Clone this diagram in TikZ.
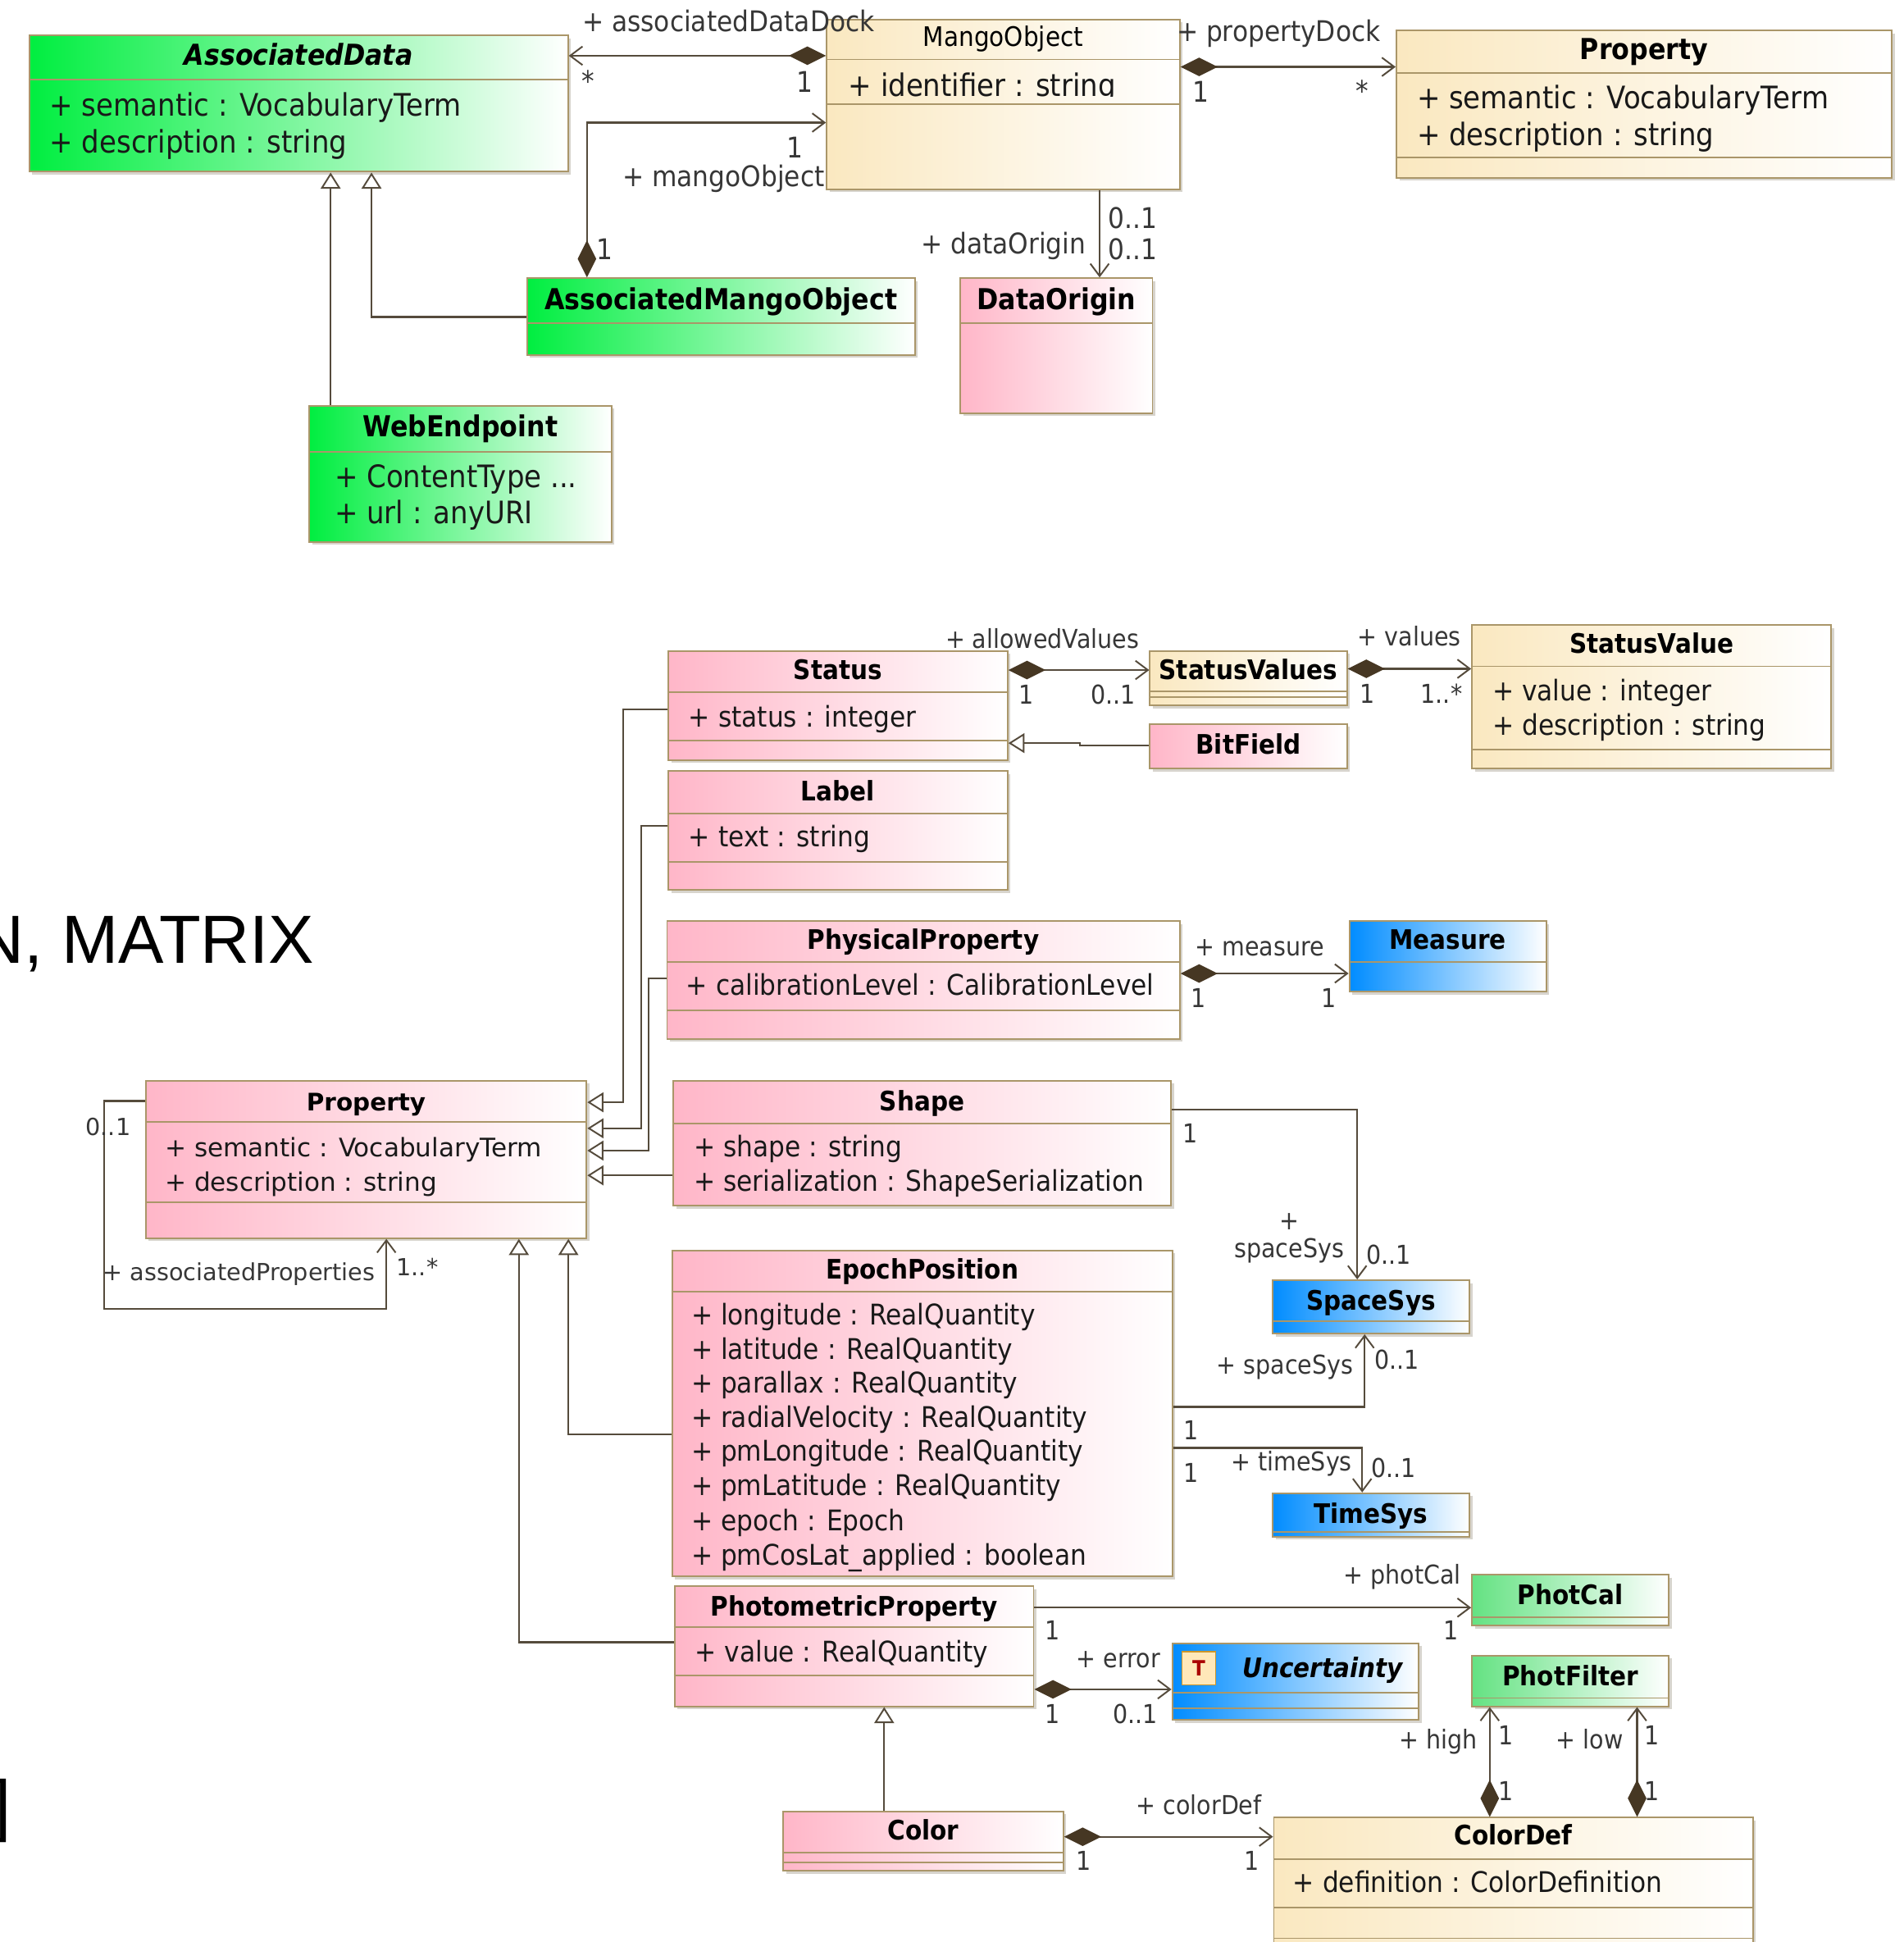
\documentclass[tikz,border=0pt]{standalone}
\usepackage{fontspec}
\setmainfont{DejaVu Sans}[FakeStretch=0.9,
  BoldFont={DejaVu Sans Bold},
  ItalicFont={DejaVu Sans Oblique},
  BoldItalicFont={DejaVu Sans Bold Oblique}]
\newfontfamily\widefont{DejaVu Sans}[BoldFont={DejaVu Sans Bold}]
\newfontfamily\slidefont{Liberation Sans}
\usetikzlibrary{arrows.meta}

\definecolor{pinkL}{RGB}{255,182,200}
\definecolor{creamL}{RGB}{250,232,192}
\definecolor{greenL}{RGB}{0,238,64}
\definecolor{mintL}{RGB}{100,226,130}
\definecolor{blueL}{RGB}{0,140,255}
\definecolor{boxline}{RGB}{170,150,105}
\definecolor{shadowc}{RGB}{215,212,205}
\definecolor{connc}{RGB}{85,75,60}
\definecolor{diamc}{RGB}{70,55,35}
\definecolor{txtc}{RGB}{25,25,25}
\definecolor{labc}{RGB}{55,55,55}
\definecolor{iconfill}{RGB}{255,232,185}
\definecolor{iconline}{RGB}{205,150,40}
\definecolor{iconT}{RGB}{170,0,0}

\tikzset{
  cls/.style={draw=boxline, line width=1.3pt, inner sep=0pt, anchor=north west},
  sepline/.style={draw=boxline, line width=1.3pt},
  txt/.style={inner sep=0pt, yshift=-5pt},
  uttl/.style={txt, anchor=mid, text=black, font=\fontsize{23.3}{28}\selectfont\bfseries},
  lttl/.style={txt, anchor=mid, text=black, font=\fontsize{21.7}{26}\selectfont\bfseries},
  uatt/.style={txt, anchor=mid west, text=txtc, font=\fontsize{25}{30}\selectfont},
  latt/.style={txt, anchor=mid west, text=txtc, font=\fontsize{23}{27}\selectfont},
  watt/.style={txt, anchor=mid west, text=txtc, font=\widefont\fontsize{20.6}{25}\selectfont},
  ulab/.style={txt, text=labc, font=\fontsize{23}{27}\selectfont},
  llab/.style={txt, text=labc, font=\fontsize{21}{24}\selectfont},
  wlab/.style={txt, text=labc, font=\widefont\fontsize{19}{22}\selectfont},
  conn/.style={draw=connc, line width=1.5pt, line join=miter},
  assoc/.style={conn, arrows={-Straight Barb[length=10pt,width=15pt,line width=1.3pt]}},
  comp/.style={conn, arrows={Diamond[length=30pt,width=15pt,fill=diamc,color=diamc]-Straight Barb[length=10pt,width=15pt,line width=1.3pt]}},
  gen/.style={conn, arrows={-Triangle[length=13pt,width=16pt,fill=white,line width=1.3pt]}},
}

% class box: name, x1, y1, x2, y2, gradient colour
\newcommand\klass[6]{%
  \fill[shadowc] (#2+3,#3+3) rectangle (#4+3,#5+3);
  \node[cls, left color=#6, right color=white,
        minimum width={(#4-#2)*1pt}, minimum height={(#5-#3)*1pt}] (#1) at (#2,#3) {};
}
% compartment line across a class box
\newcommand\compline[2]{\draw[sepline] (#1.west |- 0,#2) -- (#1.east |- 0,#2);}

\begin{document}
\begin{tikzpicture}[x=1pt,y=-1pt]
\useasboundingbox (0,0) rectangle (1537,1568);
\fill[white] (0,0) rectangle (1537,1568);
\clip (0,0) rectangle (1537,1568);

% ---------- slide text behind the diagram ----------
\node[anchor=base east, inner sep=0pt, font=\slidefont\fontsize{55}{60}\selectfont] (slidetext) at (254,778) {N, MATRIX};
\node[anchor=base east, inner sep=0pt, font=\slidefont\fontsize{55}{60}\selectfont] (slidebracket) at (9,1476) {]};

% ================= upper package =================
\klass{assocdata}{23}{28}{458}{138}{greenL}
\klass{mango}{667}{15}{952}{152}{creamL}
\klass{proptop}{1127}{24}{1527}{143}{creamL}
\klass{amo}{425}{224}{738}{286}{greenL}
\klass{dataorigin}{775}{224}{930}{333}{pinkL}
\klass{web}{249}{327}{493}{437}{greenL}

\compline{assocdata}{64}
\compline{mango}{48}\compline{mango}{84}
\compline{proptop}{59}\compline{proptop}{127}
\compline{amo}{261}
\compline{dataorigin}{261}
\compline{web}{365}

\node[uttl, font=\fontsize{23.3}{28}\selectfont\bfseries\itshape] (tAssocData) at (assocdata.north |- 0,45) {AssociatedData};
\node[uatt] (aAD1) at (40,86) {+ semantic : VocabularyTerm};
\node[uatt] (aAD2) at (40,116) {+ description : string};

\node[uttl, font=\fontsize{21.7}{26}\selectfont] (tMango) at (mango.north |- 0,30) {MangoObject};
\begin{scope}
  % the attribute compartment is too short: the descender is cut off
  \clip (mango.west |- 0,49) rectangle (mango.east |- 0,78);
  \node[uatt] (aMO1) at (685,70) {+ identifier : string};
\end{scope}

\node[uttl] (tPropTop) at (proptop.north |- 0,40) {Property};
\node[uatt] (aPT1) at (1144,80) {+ semantic : VocabularyTerm};
\node[uatt] (aPT2) at (1144,110) {+ description : string};

\node[uttl] (tAMO) at (amo.north |- 0,242) {AssociatedMangoObject};
\node[uttl] (tDataOrigin) at (dataorigin.north |- 0,242) {DataOrigin};

\node[uttl] (tWeb) at (web.north |- 0,345) {WebEndpoint};
\node[uatt] (aWE1) at (270,386) {+ ContentType ...};
\node[uatt] (aWE2) at (270,415) {+ url : anyURI};

% upper connectors
\draw[comp] (mango.west |- 0,45) -- (assocdata.east |- 0,45);
\draw[comp] (amo.north -| 474,0) |- (mango.west |- 0,99);
\draw[comp] (mango.east |- 0,54) -- (proptop.west |- 0,54);
\draw[assoc] (mango.south -| 888,0) -- (dataorigin.north -| 888,0);
\draw[gen] (amo.west |- 0,256) -| (assocdata.south -| 300,0);
\draw[gen] (web.north -| 267,0) -- (assocdata.south -| 267,0);

\node[ulab, anchor=mid west] (lDock) at (470,18) {+ associatedDataDock};
\node[ulab, anchor=mid] (mDock1) at (475,66) {*};
\node[ulab, anchor=mid] (mDock2) at (650,67) {1};
\node[ulab, anchor=mid] (mMO1) at (642,120) {1};
\node[ulab, anchor=mid east] (lMO) at (666,143) {+ mangoObject};
\node[ulab, anchor=mid] (mMO2) at (488,202) {1};
\node[ulab, anchor=mid west] (lPD) at (950,26) {+ propertyDock};
\node[ulab, anchor=mid] (mPD1) at (970,75) {1};
\node[ulab, anchor=mid] (mPD2) at (1100,74) {*};
\node[ulab, anchor=mid west] (mDO1) at (895,177) {0..1};
\node[ulab, anchor=mid east] (lDO) at (877,197) {+ dataOrigin};
\node[ulab, anchor=mid west] (mDO2) at (895,202) {0..1};

% ================= lower package =================
\klass{status}{539}{525}{813}{613}{pinkL}
\klass{statusvalues}{928}{525}{1087}{569}{creamL}
\klass{statusvalue}{1188}{504}{1478}{620}{creamL}
\klass{bitfield}{928}{584}{1087}{620}{pinkL}
\klass{label}{539}{622}{813}{718}{pinkL}
\klass{physprop}{538}{743}{952}{838}{pinkL}
\klass{measure}{1089}{743}{1248}{800}{blueL}
\klass{shape}{543}{872}{945}{973}{pinkL}
\klass{proplow}{117}{872}{473}{999}{pinkL}
\klass{epoch}{542}{1009}{946}{1272}{pinkL}
\klass{spacesys}{1027}{1033}{1186}{1076}{blueL}
\klass{timesys}{1027}{1205}{1186}{1240}{blueL}
\klass{photprop}{544}{1280}{834}{1377}{pinkL}
\klass{photcal}{1188}{1271}{1347}{1312}{mintL}
\klass{uncert}{946}{1326}{1145}{1388}{blueL}
\klass{photfilter}{1188}{1336}{1347}{1377}{mintL}
\klass{color}{632}{1462}{858}{1510}{pinkL}
\klass{colordef}{1028}{1467}{1415}{1600}{creamL}

\compline{status}{559}\compline{status}{598}
\compline{statusvalues}{558}\compline{statusvalues}{563}
\compline{statusvalue}{538}\compline{statusvalue}{605}
\compline{label}{657}\compline{label}{696}
\compline{physprop}{777}\compline{physprop}{816}
\compline{measure}{777}
\compline{shape}{907}
\compline{proplow}{906}\compline{proplow}{971}
\compline{epoch}{1043}
\compline{spacesys}{1067}
\compline{timesys}{1237}
\compline{photprop}{1314}\compline{photprop}{1353}
\compline{photcal}{1306}
\compline{uncert}{1367}\compline{uncert}{1379}
\compline{photfilter}{1371}
\compline{color}{1496}\compline{color}{1504}
\compline{colordef}{1501}\compline{colordef}{1540}\compline{colordef}{1565}

\node[lttl] (tStatus) at (status.north |- 0,541) {Status};
\node[latt] (aSt1) at (556,579) {+ status : integer};
\node[lttl] (tSVs) at (statusvalues.north |- 0,541) {StatusValues};
\node[lttl] (tSV) at (statusvalue.north |- 0,520) {StatusValue};
\node[latt] (aSV1) at (1205,558) {+ value : integer};
\node[latt] (aSV2) at (1205,586) {+ description : string};
\node[lttl] (tBit) at (bitfield.north |- 0,601) {BitField};
\node[lttl] (tLabel) at (label.north |- 0,639) {Label};
\node[latt] (aLb1) at (556,676) {+ text : string};
\node[lttl] (tPhys) at (physprop.north |- 0,759) {PhysicalProperty};
\node[latt] (aPh1) at (554,796) {+ calibrationLevel : CalibrationLevel};
\node[lttl] (tMeasure) at (measure.north |- 0,759) {Measure};
\node[lttl] (tShape) at (shape.north |- 0,889) {Shape};
\node[latt] (aSh1) at (560,926) {+ shape : string};
\node[latt] (aSh2) at (560,954) {+ serialization : ShapeSerialization};
\node[lttl, font=\widefont\fontsize{19.5}{24}\selectfont\bfseries] (tPropLow) at (proplow.north |- 0,889) {Property};
\node[watt] (aPL1) at (133,926) {+ semantic : VocabularyTerm};
\node[watt] (aPL2) at (133,954) {+ description : string};
\node[lttl] (tEpoch) at (epoch.north |- 0,1025) {EpochPosition};
\node[latt] (aEp1) at (558,1062) {+ longitude : RealQuantity};
\node[latt] (aEp2) at (558,1090) {+ latitude : RealQuantity};
\node[latt] (aEp3) at (558,1117) {+ parallax : RealQuantity};
\node[latt] (aEp4) at (558,1145) {+ radialVelocity : RealQuantity};
\node[latt] (aEp5) at (558,1172) {+ pmLongitude : RealQuantity};
\node[latt] (aEp6) at (558,1200) {+ pmLatitude : RealQuantity};
\node[latt] (aEp7) at (558,1228) {+ epoch : Epoch};
\node[latt] (aEp8) at (558,1256) {+ pmCosLat\_applied : boolean};
\node[lttl] (tSpace) at (spacesys.north |- 0,1050) {SpaceSys};
\node[lttl] (tTime) at (timesys.north |- 0,1222) {TimeSys};
\node[lttl] (tPhot) at (photprop.north |- 0,1297) {PhotometricProperty};
\node[latt] (aPp1) at (561,1334) {+ value : RealQuantity};
\node[lttl] (tPhotCal) at (photcal.north |- 0,1288) {PhotCal};
\node[draw=iconline, fill=iconfill, line width=1pt, minimum size=27pt, inner sep=0pt,
      text=iconT, font=\fontsize{17}{17}\selectfont\bfseries] (ticon) at (968,1347) {T};
\node[lttl, anchor=mid west, font=\fontsize{21.7}{26}\selectfont\bfseries\itshape] (tUncert) at (1003,1347) {Uncertainty};
\node[lttl] (tPhotFilter) at (photfilter.north |- 0,1353) {PhotFilter};
\node[lttl] (tColor) at (color.north |- 0,1478) {Color};
\node[lttl] (tColorDef) at (colordef.north |- 0,1482) {ColorDef};
\node[latt] (aCD1) at (1044,1520) {+ definition : ColorDefinition};

% lower connectors
\draw[comp] (status.east |- 0,541) -- (statusvalues.west |- 0,541);
\draw[comp] (statusvalues.east |- 0,540) -- (statusvalue.west |- 0,540);
\draw[gen] (bitfield.west |- 0,602) -- (872,602) -- (872,600) -- (status.east |- 0,600);
\draw[gen] (status.west |- 0,573) -| (503,890) -- (proplow.east |- 0,890);
\draw[gen] (label.west |- 0,667) -| (518,911) -- (proplow.east |- 0,911);
\draw[gen] (physprop.west |- 0,790) -| (524,929) -- (proplow.east |- 0,929);
\draw[gen] (shape.west |- 0,949) -- (proplow.east |- 0,949);
\draw[gen] (epoch.west |- 0,1158) -| (proplow.south -| 459,0);
\draw[gen] (photprop.west |- 0,1326) -| (proplow.south -| 419,0);
\draw[gen] (color.north -| 714,0) -- (photprop.south -| 714,0);
\draw[assoc] (proplow.west |- 0,889) -| (84,1057) -| (proplow.south -| 312,0);
\draw[comp] (physprop.east |- 0,786) -- (measure.west |- 0,786);
\draw[assoc] (shape.east |- 0,896) -| (spacesys.north -| 1096,0);
\draw[assoc] (epoch.east |- 0,1136) -| (spacesys.south -| 1102,0);
\draw[assoc] (epoch.east |- 0,1169) -| (timesys.north -| 1100,0);
\draw[assoc] (photprop.east |- 0,1298) -- (photcal.west |- 0,1298);
\draw[comp] (photprop.east |- 0,1364) -- (uncert.west |- 0,1364);
\draw[comp] (color.east |- 0,1483) -- (colordef.west |- 0,1483);
\draw[comp] (colordef.north -| 1203,0) -- (photfilter.south -| 1203,0);
\draw[comp] (colordef.north -| 1322,0) -- (photfilter.south -| 1322,0);

% lower role names and multiplicities
\node[llab, anchor=mid east] (lAllowed) at (920,516) {+ allowedValues};
\node[llab, anchor=mid] (mAl1) at (829,561) {1};
\node[llab, anchor=mid east] (mAl2) at (917,561) {0..1};
\node[llab, anchor=mid east] (lValues) at (1180,514) {+ values};
\node[llab, anchor=mid] (mVa1) at (1104,560) {1};
\node[llab, anchor=mid east] (mVa2) at (1181,560) {1..*};
\node[llab, anchor=mid west] (lMeasure) at (965,764) {+ measure};
\node[llab, anchor=mid] (mMe1) at (968,806) {1};
\node[llab, anchor=mid] (mMe2) at (1073,806) {1};
\node[llab, anchor=mid] (mSS1) at (961,915) {1};
\node[llab, align=center, anchor=mid] (lSS1) at (1041,1008) {+\\[-1pt]spaceSys};
\node[llab, anchor=mid west] (mSS2) at (1103,1013) {0..1};
\node[llab, anchor=mid east] (lSS2) at (1093,1102) {+ spaceSys};
\node[llab, anchor=mid west] (mSS3) at (1110,1098) {0..1};
\node[llab, anchor=mid] (mSS4) at (962,1155) {1};
\node[llab, anchor=mid east] (lTS) at (1092,1180) {+ timeSys};
\node[llab, anchor=mid west] (mTS1) at (1107,1185) {0..1};
\node[llab, anchor=mid] (mTS2) at (962,1189) {1};
\node[llab, anchor=mid east] (lPC) at (1180,1271) {+ photCal};
\node[llab, anchor=mid] (mPC1) at (850,1316) {1};
\node[llab, anchor=mid] (mPC2) at (1172,1316) {1};
\node[llab, anchor=mid east] (lErr) at (937,1339) {+ error};
\node[llab, anchor=mid] (mEr1) at (850,1384) {1};
\node[llab, anchor=mid east] (mEr2) at (935,1384) {0..1};
\node[llab, anchor=mid east] (lCD) at (1019,1457) {+ colorDef};
\node[llab, anchor=mid] (mCD1) at (875,1502) {1};
\node[llab, anchor=mid] (mCD2) at (1011,1502) {1};
\node[llab, anchor=mid east] (lHigh) at (1193,1404) {+ high};
\node[llab, anchor=mid] (mHi1) at (1216,1401) {1};
\node[llab, anchor=mid] (mHi2) at (1216,1446) {1};
\node[llab, anchor=mid east] (lLow) at (1311,1404) {+ low};
\node[llab, anchor=mid] (mLo1) at (1334,1401) {1};
\node[llab, anchor=mid] (mLo2) at (1334,1446) {1};
\node[wlab, anchor=mid west] (mAP1) at (69,909) {0..1};
\node[wlab, anchor=mid east] (lAP) at (303,1026) {+ associatedProperties};
\node[wlab, anchor=mid west] (mAP2) at (320,1022) {1..*};
\end{tikzpicture}
\end{document}
